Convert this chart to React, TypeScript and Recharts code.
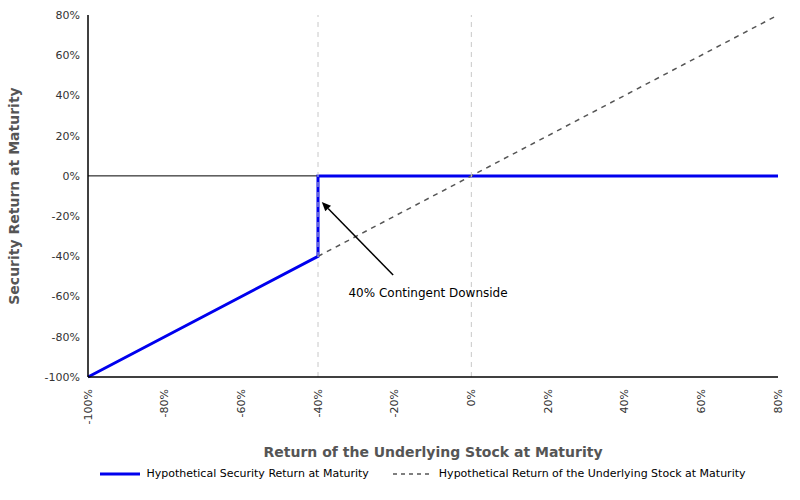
import { LineChart, Line, XAxis, YAxis, ReferenceLine, Legend, Label } from 'recharts';

const securityX = [-100, -40, -40, 80];
const securityY = [-100, -40, 0, 0];
const stockX = [-40, 80];
const stockY = [-40, 80];
const xTicks = [-100, -80, -60, -40, -20, 0, 20, 40, 60, 80];
const yTicks = [-100, -80, -60, -40, -20, 0, 20, 40, 60, 80];
const legendItems = [
  { label: 'Hypothetical Security Return at Maturity', color: '#0000ee', dash: '0', width: 3 },
  { label: 'Hypothetical Return of the Underlying Stock at Maturity', color: '#555', dash: '4 4', width: 1.5 },
];

const security = securityX.map((x, i) => ({ x, y: securityY[i] }));
const stock = stockX.map((x, i) => ({ x, y: stockY[i] }));

const pct = (v: number) => `${v}%`;

const RotTick = (p: any) => (
  <text x={p.x} y={p.y + 4} transform={`rotate(-90 ${p.x} ${p.y + 4})`} textAnchor="end" dominantBaseline="central" fontSize={11} fill="#333">
    {pct(p.payload.value)}
  </text>
);

const Arrow = (p: any) => {
  const { x1, y1, x2, y2 } = p;
  const a = Math.atan2(y2 - y1, x2 - x1);
  const L = 9, W = 4;
  const bx = x2 - L * Math.cos(a), by = y2 - L * Math.sin(a);
  const pts = `${x2},${y2} ${bx + W * Math.sin(a)},${by - W * Math.cos(a)} ${bx - W * Math.sin(a)},${by + W * Math.cos(a)}`;
  return (
    <g>
      <line x1={x1} y1={y1} x2={bx} y2={by} stroke="#000" strokeWidth={1.5} />
      <polygon points={pts} fill="#000" />
    </g>
  );
};

const LegendContent = () => (
  <div style={{ display: 'flex', justifyContent: 'center', gap: 24, fontSize: 11, color: '#000', paddingLeft: 60 }}>
    {legendItems.map((it) => (
      <div key={it.label} style={{ display: 'flex', alignItems: 'center', gap: 6 }}>
        <svg width={40} height={8}>
          <line x1={0} y1={4} x2={40} y2={4} stroke={it.color} strokeWidth={it.width} strokeDasharray={it.dash} />
        </svg>
        <span>{it.label}</span>
      </div>
    ))}
  </div>
);

export default function App() {
  return (
    <div style={{ position: 'absolute', left: 0, top: 0, background: '#fff', fontFamily: 'DejaVu Sans, sans-serif' }}>
      <LineChart width={800} height={500} margin={{ top: 15, right: 22, left: 8, bottom: 3 }}>
        <XAxis type="number" dataKey="x" domain={[-100, 80]} ticks={xTicks} interval={0} tick={<RotTick />} tickLine={false} axisLine={{ stroke: '#000', strokeWidth: 1.5 }} height={90}>
          <Label value="Return of the Underlying Stock at Maturity" position="insideBottom" offset={10} style={{ fontSize: 14, fontWeight: 'bold', fill: '#555' }} />
        </XAxis>
        <YAxis type="number" dataKey="y" domain={[-100, 80]} ticks={yTicks} interval={0} tickFormatter={pct} tick={{ fontSize: 11, fill: '#333' }} tickLine={false} axisLine={{ stroke: '#000', strokeWidth: 1.5 }} width={80}>
          <Label value="Security Return at Maturity" angle={-90} position="insideLeft" offset={6} style={{ textAnchor: 'middle', fontSize: 14, fontWeight: 'bold', fill: '#555' }} />
        </YAxis>
        <ReferenceLine y={0} stroke="#000" strokeWidth={1} />
        <Line data={security} dataKey="y" name="Hypothetical Security Return at Maturity" stroke="#0000ee" strokeWidth={3} dot={false} isAnimationActive={false} />
        <Line data={stock} dataKey="y" name="Hypothetical Return of the Underlying Stock at Maturity" stroke="#555" strokeWidth={1.5} strokeDasharray="5 5" dot={false} isAnimationActive={false} />
        <ReferenceLine x={-40} stroke="#c8c8c8" strokeDasharray="5 5" strokeWidth={1} />
        <ReferenceLine x={0} stroke="#c8c8c8" strokeDasharray="5 5" strokeWidth={1} />
        <ReferenceLine segment={[{ x: -20.4, y: -49.3 }, { x: -39, y: -13 }]} shape={<Arrow />} />
        <ReferenceLine segment={[{ x: -11.3, y: -58.3 }, { x: -11.3, y: -58.3 }]} stroke="none">
          <Label value="40% Contingent Downside" position="center" style={{ fontSize: 12, fill: '#000' }} />
        </ReferenceLine>
        <Legend verticalAlign="bottom" height={30} content={<LegendContent />} />
      </LineChart>
    </div>
  );
}
